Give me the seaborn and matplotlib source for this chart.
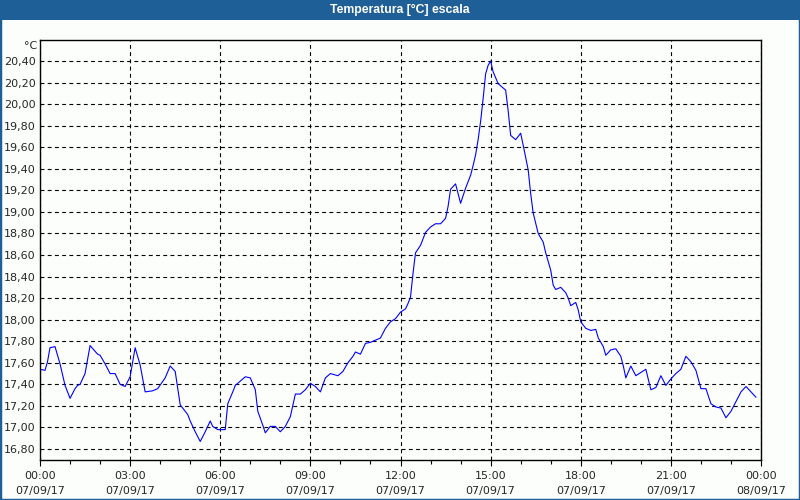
import numpy as np
import pandas as pd
import matplotlib
matplotlib.use('Agg')
import matplotlib.pyplot as plt
import matplotlib.dates as mdates
from matplotlib.patches import Rectangle
from matplotlib.ticker import FuncFormatter
import seaborn as sns

# Data: minutes after 07/09/17 00:00 and temperature in °C
minutes = [0, 10, 15, 20, 30, 40, 50, 60, 70, 75, 80, 90, 100, 115, 120, 130, 140, 150,
           160, 170, 180, 190, 200, 210, 225, 235, 250, 260, 270, 280, 295, 300, 310, 320,
           330, 340, 345, 355, 370, 375, 385, 390, 400, 410, 420, 430, 435, 445, 450, 460,
           470, 480, 490, 500, 510, 520, 530, 540, 550, 560, 570, 580, 595, 605, 615, 625,
           630, 640, 650, 660, 680, 690, 700, 710, 720, 730, 735, 740, 745, 750, 760, 770,
           780, 790, 800, 810, 815, 820, 830, 840, 850, 860, 865, 870, 875, 880, 885, 890,
           895, 900, 905, 915, 925, 930, 935, 940, 945, 950, 960, 965, 975, 980, 985, 995,
           1005, 1010, 1020, 1025, 1030, 1040, 1050, 1055, 1060, 1070, 1075, 1080, 1090,
           1100, 1110, 1115, 1125, 1130, 1140, 1150, 1160, 1165, 1170, 1180, 1190, 1200,
           1210, 1220, 1230, 1240, 1250, 1260, 1270, 1280, 1290, 1300, 1310, 1320, 1330,
           1340, 1350, 1360, 1370, 1380, 1390, 1400, 1410, 1420, 1430]
temps = [17.54, 17.53, 17.61, 17.74, 17.75, 17.59, 17.39, 17.27, 17.36, 17.39, 17.40,
         17.50, 17.76, 17.68, 17.67, 17.59, 17.50, 17.50, 17.40, 17.38, 17.47, 17.74,
         17.58, 17.33, 17.34, 17.36, 17.46, 17.57, 17.52, 17.21, 17.12, 17.06, 16.96,
         16.87, 16.96, 17.06, 17.01, 16.98, 16.98, 17.22, 17.33, 17.39, 17.43, 17.47,
         17.46, 17.35, 17.15, 17.02, 16.95, 17.01, 17.01, 16.96, 17.01, 17.10, 17.31,
         17.31, 17.35, 17.41, 17.38, 17.33, 17.46, 17.50, 17.48, 17.52, 17.60, 17.66,
         17.70, 17.68, 17.78, 17.79, 17.83, 17.92, 17.98, 18.01, 18.07, 18.10, 18.15,
         18.21, 18.43, 18.62, 18.69, 18.81, 18.86, 18.89, 18.89, 18.94, 19.05, 19.21,
         19.26, 19.08, 19.22, 19.34, 19.43, 19.53, 19.67, 19.84, 20.05, 20.28, 20.36,
         20.40, 20.30, 20.19, 20.15, 20.13, 19.94, 19.71, 19.69, 19.67, 19.73, 19.62,
         19.39, 19.17, 18.99, 18.80, 18.72, 18.62, 18.46, 18.32, 18.28, 18.30, 18.25,
         18.20, 18.13, 18.16, 18.09, 17.98, 17.92, 17.90, 17.91, 17.83, 17.75, 17.67,
         17.72, 17.73, 17.66, 17.57, 17.46, 17.57, 17.48, 17.51, 17.54, 17.35, 17.37,
         17.48, 17.39, 17.45, 17.50, 17.54, 17.66, 17.61, 17.53, 17.36, 17.36, 17.22,
         17.19, 17.18, 17.09, 17.15, 17.24, 17.33, 17.38, 17.33, 17.28]
y_ticks = [16.8, 17.0, 17.2, 17.4, 17.6, 17.8, 18.0, 18.2, 18.4, 18.6, 18.8, 19.0,
           19.2, 19.4, 19.6, 19.8, 20.0, 20.2, 20.4]

start = pd.Timestamp('2017-09-07 00:00')
df = pd.DataFrame({'time': start + pd.to_timedelta(minutes, unit='m'),
                   'temp': temps})

sns.set_theme(style='white')
plt.rcParams['font.family'] = ['DejaVu Sans']

bar_blue = '#1f5f97'
fig = plt.figure(figsize=(8, 5), dpi=100, facecolor='#fcfefc')
ax = fig.add_axes([40 / 800, 40 / 500, 721 / 800, 420 / 500])
ax.set_facecolor('#fcfefc')

sns.lineplot(data=df, x='time', y='temp', ax=ax, color='#0000ff', linewidth=0.8)

ax.set_xlim(start, start + pd.Timedelta(hours=24))
ax.set_ylim(16.698, 20.595)
ax.set_xlabel('')
ax.set_ylabel('')

# x axis: 3 hour majors, hourly minors
ax.xaxis.set_major_locator(mdates.HourLocator(interval=3))
ax.xaxis.set_minor_locator(mdates.HourLocator(interval=1))
ax.xaxis.set_major_formatter(mdates.DateFormatter('%H:%M\n%d/%m/%y'))
ax.tick_params(axis='x', which='major', length=4, width=0.8, color='black',
               labelsize=8, pad=4, bottom=True)
ax.tick_params(axis='x', which='minor', length=3, width=0.8, color='black', bottom=True)
for lbl in ax.get_xticklabels():
    lbl.set_linespacing(1.6)

# y axis with comma decimals
ax.set_yticks(y_ticks)
ax.yaxis.set_major_formatter(FuncFormatter(lambda v, p: f'{v:.2f}'.replace('.', ',')))
ax.tick_params(axis='y', which='major', length=0, labelsize=8, pad=3)

ax.grid(True, which='major', color='black', linestyle=(0, (3.5, 3)), linewidth=0.8)
for s in ax.spines.values():
    s.set_color('black')
    s.set_linewidth(1.0)

fig.text(37 / 800, 1 - 46 / 500, '°C', ha='right', va='center', fontsize=8)

# window title bar and border
fig.patches.append(Rectangle((0, 1 - 20 / 500), 1, 20 / 500, transform=fig.transFigure,
                             facecolor=bar_blue, edgecolor='none', zorder=0))
fig.patches.append(Rectangle((0, 0), 1, 1, transform=fig.transFigure,
                             facecolor='none', edgecolor=bar_blue, linewidth=2.5, zorder=1))
fig.text(0.5, 1 - 10 / 500, 'Temperatura [°C] escala', ha='center', va='center',
         color='white', fontsize=8.8, fontweight='bold', family=['Liberation Sans'])

fig.savefig('out.png', dpi=100, facecolor=fig.get_facecolor())
